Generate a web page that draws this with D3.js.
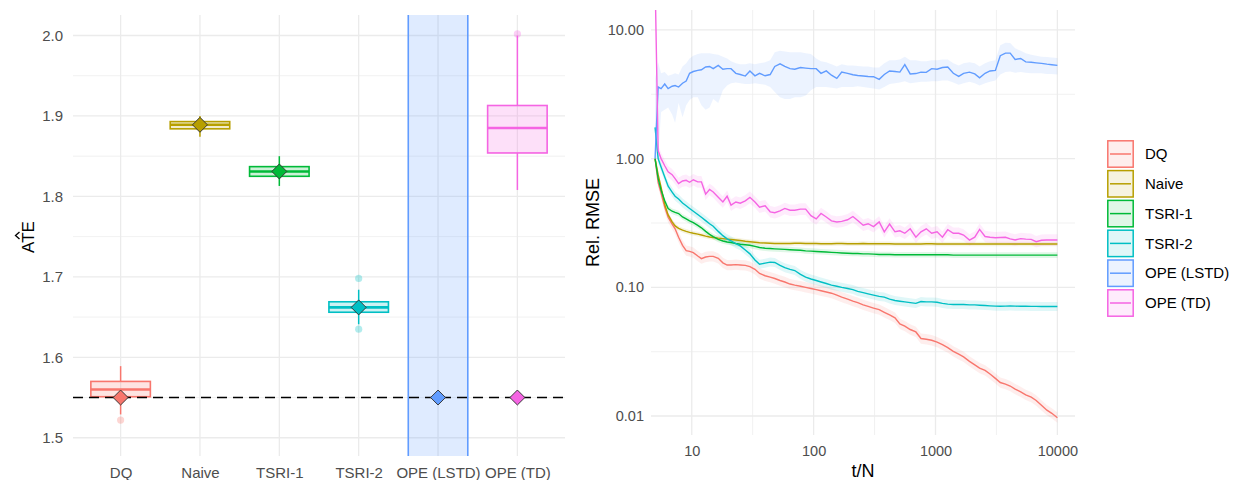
<!DOCTYPE html>
<html>
<head>
<meta charset="utf-8">
<script src="https://cdn.jsdelivr.net/npm/d3@7"></script>
<style>
body { margin: 0; background: #fff; }
text { font-family: "Liberation Sans", Arial, sans-serif; }
</style>
</head>
<body>
<svg id="chart" width="1233" height="480"></svg>
<script>
// ---- data: left panel (ATE estimates) ----
var methods = ["DQ", "Naive", "TSRI-1", "TSRI-2", "OPE (LSTD)", "OPE (TD)"];
var colors = ["#F8766D", "#B79F00", "#00BA38", "#00BFC4", "#619CFF", "#F564E3"];
var boxLow = [1.529, 1.874, 1.813, 1.641, -6.0, 1.808];
var boxQ1 = [1.551, 1.884, 1.825, 1.656, -1.5, 1.854];
var boxMed = [1.560, 1.889, 1.831, 1.662, 1.2, 1.885];
var boxQ3 = [1.570, 1.893, 1.837, 1.669, 4.5, 1.913];
var boxHigh = [1.589, 1.900, 1.850, 1.684, 9.0, 2.000];
var ateMean = [1.550, 1.889, 1.831, 1.662, 1.550, 1.550];
var outlierMethod = ["DQ", "TSRI-2", "TSRI-2", "OPE (TD)"];
var outlierValue = [1.522, 1.698, 1.635, 2.002];
var trueATE = 1.55;
var ateTicks = [1.5, 1.6, 1.7, 1.8, 1.9, 2.0];

// ---- data: right panel (relative RMSE over t/N) ----
var tGrid = [5, 5.3, 5.6, 6, 6.4, 6.9, 7.3, 7.8, 8.4, 9,
  9.6, 10.3, 11.2, 12, 13, 14, 15, 16.5, 18, 19.5,
  21, 23, 25, 27.5, 30, 33, 36, 40, 44, 48,
  53, 58, 64, 70, 78, 86, 95, 105, 115, 127,
  140, 155, 170, 190, 210, 230, 255, 280, 310, 345,
  380, 420, 465, 510, 560, 620, 690, 760, 840, 930,
  1030, 1140, 1260, 1400, 1550, 1700, 1900, 2100, 2300, 2550,
  2800, 3100, 3400, 3750, 4100, 4500, 5000, 5500, 6100, 6700,
  7400, 8200, 9000, 10000];

var rmseDQ = [1.0, 0.65, 0.54, 0.42, 0.35, 0.31, 0.285, 0.245, 0.212, 0.193,
  0.19, 0.186, 0.175, 0.167, 0.172, 0.174, 0.174, 0.168, 0.155, 0.149,
  0.149, 0.150, 0.149, 0.148, 0.145, 0.138, 0.128, 0.123, 0.120, 0.117,
  0.113, 0.110, 0.106, 0.104, 0.102, 0.100, 0.098, 0.096, 0.094, 0.092,
  0.090, 0.087, 0.084, 0.081, 0.078, 0.076, 0.073, 0.071, 0.069, 0.067,
  0.064, 0.061, 0.058, 0.052, 0.050, 0.047, 0.045, 0.040, 0.0395, 0.0388,
  0.0375, 0.0358, 0.0340, 0.0318, 0.0302, 0.0288, 0.0266, 0.0250, 0.0236, 0.0226,
  0.0212, 0.0196, 0.0182, 0.0177, 0.0171, 0.0162, 0.0154, 0.0146, 0.0140, 0.0132,
  0.0121, 0.0111, 0.0105, 0.0097];

var rmseNaive = [1.0, 0.75, 0.60, 0.44, 0.365, 0.322, 0.300, 0.287, 0.278, 0.272,
  0.267, 0.263, 0.259, 0.255, 0.250, 0.246, 0.244, 0.241, 0.239, 0.237,
  0.235, 0.233, 0.231, 0.228, 0.226, 0.224, 0.222, 0.221, 0.220, 0.219,
  0.219, 0.219, 0.219, 0.220, 0.220, 0.219, 0.219, 0.219, 0.218, 0.218,
  0.218, 0.219, 0.219, 0.218, 0.218, 0.218, 0.219, 0.218, 0.218, 0.218,
  0.218, 0.218, 0.217, 0.217, 0.217, 0.217, 0.217, 0.217, 0.218, 0.218,
  0.217, 0.217, 0.217, 0.217, 0.217, 0.217, 0.217, 0.217, 0.217, 0.217,
  0.217, 0.217, 0.217, 0.217, 0.217, 0.217, 0.217, 0.217, 0.217, 0.217,
  0.217, 0.217, 0.217, 0.217];

var rmseTSRI1 = [1.0, 0.70, 0.57, 0.47, 0.41, 0.39, 0.382, 0.374, 0.352, 0.340,
  0.328, 0.318, 0.303, 0.290, 0.272, 0.258, 0.248, 0.236, 0.229, 0.225,
  0.223, 0.219, 0.216, 0.214, 0.212, 0.208, 0.204, 0.201, 0.200, 0.199,
  0.198, 0.197, 0.196, 0.195, 0.194, 0.192, 0.191, 0.190, 0.189, 0.188,
  0.187, 0.186, 0.185, 0.184, 0.183, 0.183, 0.182, 0.182, 0.181, 0.180,
  0.180, 0.180, 0.179, 0.179, 0.179, 0.179, 0.179, 0.179, 0.179, 0.179,
  0.179, 0.179, 0.179, 0.178, 0.178, 0.178, 0.178, 0.178, 0.178, 0.178,
  0.178, 0.178, 0.178, 0.178, 0.178, 0.178, 0.178, 0.178, 0.178, 0.178,
  0.178, 0.178, 0.178, 0.178];

var rmseTSRI2 = [1.75, 1.0, 0.86, 0.72, 0.61, 0.55, 0.51, 0.485, 0.452, 0.430,
  0.410, 0.390, 0.368, 0.350, 0.330, 0.312, 0.298, 0.272, 0.252, 0.238,
  0.230, 0.218, 0.210, 0.195, 0.182, 0.163, 0.151, 0.154, 0.157, 0.156,
  0.148, 0.142, 0.138, 0.135, 0.126, 0.120, 0.116, 0.113, 0.110, 0.107,
  0.104, 0.102, 0.100, 0.098, 0.096, 0.093, 0.091, 0.089, 0.087, 0.085,
  0.084, 0.081, 0.079, 0.078, 0.077, 0.076, 0.075, 0.0775, 0.077, 0.077,
  0.0765, 0.075, 0.074, 0.0735, 0.0735, 0.0735, 0.073, 0.073, 0.0726, 0.0722,
  0.0718, 0.0714, 0.0712, 0.0714, 0.0716, 0.0714, 0.0713, 0.0712, 0.0711, 0.0711,
  0.071, 0.071, 0.071, 0.071];

var rmseLSTD = [1.0, 3.6, 3.5, 3.8, 3.5, 3.65, 3.7, 3.6, 3.85, 4.0,
  4.6, 4.75, 4.85, 4.9, 5.15, 5.2, 5.0, 5.3, 4.95, 5.0,
  5.0, 4.6, 4.5, 4.38, 4.8, 4.4, 4.6, 4.4, 4.5, 5.2,
  5.45, 5.2, 5.0, 4.95, 5.1, 5.05, 5.0, 5.0, 4.6, 4.8,
  4.45, 4.2, 4.7, 4.6, 4.48, 4.42, 4.38, 4.35, 4.33, 4.13,
  4.5, 4.8, 4.75, 4.7, 5.38, 4.55, 4.58, 4.7, 4.68, 5.0,
  4.95, 5.1, 5.15, 4.6, 4.35, 4.6, 4.7, 4.55, 4.25, 4.6,
  4.8, 4.85, 6.3, 6.6, 6.6, 5.9, 6.0, 5.65, 5.6, 5.55,
  5.5, 5.42, 5.36, 5.3];

var rmseTD = [25, 1.15, 1.00, 0.88, 0.79, 0.75, 0.70, 0.64, 0.67, 0.678,
  0.655, 0.685, 0.66, 0.66, 0.53, 0.575, 0.55, 0.50, 0.46, 0.51,
  0.435, 0.46, 0.45, 0.47, 0.50, 0.46, 0.42, 0.43, 0.386, 0.38,
  0.392, 0.41, 0.397, 0.397, 0.405, 0.405, 0.36, 0.34, 0.375, 0.352,
  0.328, 0.322, 0.325, 0.335, 0.355, 0.33, 0.304, 0.312, 0.296, 0.322,
  0.27, 0.31, 0.27, 0.275, 0.263, 0.285, 0.245, 0.27, 0.285, 0.263,
  0.27, 0.245, 0.28, 0.263, 0.263, 0.255, 0.233, 0.245, 0.282, 0.248,
  0.245, 0.243, 0.244, 0.245, 0.238, 0.233, 0.239, 0.237, 0.236, 0.226,
  0.232, 0.233, 0.233, 0.233];

// LSTD has a wide, uneven band; the others get a fixed band (log10 half-width)
var lstdLow = [1.0, 1.0, 2.3, 2.4, 2.5, 2.2, 1.9, 2.7, 2.1, 2.6,
  2.85, 3.0, 3.0, 2.6, 2.4, 2.5, 2.9, 2.7, 3.4, 3.7,
  3.85, 3.9, 3.85, 3.8, 3.8, 3.85, 3.8, 3.75, 3.6, 3.3,
  3.0, 2.9, 2.9, 3.0, 3.0, 3.1, 3.4, 3.6, 3.6, 3.6,
  3.55, 3.5, 3.6, 3.6, 3.6, 3.65, 3.6, 3.55, 3.5, 3.45,
  3.6, 3.8, 3.85, 3.9, 4.0, 3.85, 3.9, 3.95, 3.95, 4.0,
  4.0, 4.05, 4.05, 3.9, 3.75, 3.85, 3.95, 3.85, 3.7, 3.85,
  3.95, 4.05, 4.5, 4.7, 4.75, 4.65, 4.7, 4.65, 4.6, 4.6,
  4.6, 4.55, 4.55, 4.5];
var lstdHigh = [4.2, 5.6, 4.6, 4.7, 4.4, 4.5, 4.6, 4.5, 5.2, 5.5,
  6.0, 6.3, 6.5, 6.6, 6.6, 6.6, 6.5, 6.4, 6.2, 6.0,
  5.7, 5.5, 5.4, 5.4, 5.5, 5.4, 5.5, 5.6, 5.8, 6.7,
  6.9, 6.8, 6.7, 6.7, 6.7, 6.6, 6.5, 6.0, 5.7, 5.6,
  5.4, 5.2, 5.4, 5.3, 5.3, 5.25, 5.2, 5.2, 5.1, 5.1,
  5.5, 5.8, 5.8, 5.9, 6.2, 5.8, 5.8, 5.7, 5.7, 5.8,
  5.8, 5.9, 5.9, 5.5, 5.3, 5.5, 5.6, 5.5, 5.2, 5.5,
  5.7, 5.8, 7.6, 7.95, 7.9, 7.2, 6.9, 6.6, 6.4, 6.3,
  6.2, 6.15, 6.1, 6.05];
var bandHalfWidth = [0.04, 0.018, 0.022, 0.035, 0, 0.045];

var rmseTicks = [0.01, 0.1, 1, 10];
var rmseMinor = [0.0316, 0.316, 3.16];
var tTicks = [10, 100, 1000, 10000];
var tMinor = [31.6, 316, 3162];

var series = [rmseDQ, rmseNaive, rmseTSRI1, rmseTSRI2, rmseLSTD, rmseTD];

var svg = d3.select("#chart");
var grey = "#4D4D4D";
var gridCol = "#EBEBEB";

// ================= left panel =================
var L = {left: 73, right: 565, top: 15, bottom: 456};
var x = d3.scalePoint().domain(methods).range([L.left, L.right]).padding(0.6);
var y = d3.scaleLinear().domain([1.4773, 2.0255]).range([L.bottom, L.top]);
var boxW = x.step() * 0.75;

svg.append("clipPath").attr("id", "clipL").append("rect")
  .attr("x", L.left).attr("y", L.top)
  .attr("width", L.right - L.left).attr("height", L.bottom - L.top);

var gridL = svg.append("g");
gridL.selectAll(".minor").data(y.ticks(10).filter(function(d) { return ateTicks.indexOf(+d.toFixed(2)) < 0; }))
  .enter().append("line")
  .attr("x1", L.left).attr("x2", L.right)
  .attr("y1", function(d) { return y(d); }).attr("y2", function(d) { return y(d); })
  .attr("stroke", gridCol).attr("stroke-width", 0.7);
gridL.selectAll(".major").data(ateTicks).enter().append("line")
  .attr("x1", L.left).attr("x2", L.right)
  .attr("y1", function(d) { return y(d); }).attr("y2", function(d) { return y(d); })
  .attr("stroke", gridCol).attr("stroke-width", 1.3);
gridL.selectAll(".vert").data(methods).enter().append("line")
  .attr("x1", function(d) { return x(d); }).attr("x2", function(d) { return x(d); })
  .attr("y1", L.top).attr("y2", L.bottom)
  .attr("stroke", gridCol).attr("stroke-width", 1.3);

var boxes = svg.append("g").attr("clip-path", "url(#clipL)");
methods.forEach(function(m, i) {
  var cx = x(m), c = colors[i];
  var g = boxes.append("g");
  g.append("line").attr("x1", cx).attr("x2", cx)
    .attr("y1", y(boxQ3[i])).attr("y2", y(boxHigh[i]))
    .attr("stroke", c).attr("stroke-width", 1.5);
  g.append("line").attr("x1", cx).attr("x2", cx)
    .attr("y1", y(boxQ1[i])).attr("y2", y(boxLow[i]))
    .attr("stroke", c).attr("stroke-width", 1.5);
  g.append("rect").attr("x", cx - boxW / 2).attr("width", boxW)
    .attr("y", y(boxQ3[i])).attr("height", y(boxQ1[i]) - y(boxQ3[i]))
    .attr("fill", c).attr("fill-opacity", 0.2)
    .attr("stroke", c).attr("stroke-width", 1.6);
  g.append("line").attr("x1", cx - boxW / 2).attr("x2", cx + boxW / 2)
    .attr("y1", y(boxMed[i])).attr("y2", y(boxMed[i]))
    .attr("stroke", c).attr("stroke-width", 2.6);
});

boxes.selectAll(".outlier").data(outlierValue).enter().append("circle")
  .attr("cx", function(d, i) { return x(outlierMethod[i]); })
  .attr("cy", function(d) { return y(d); })
  .attr("r", 3.6)
  .attr("fill", function(d, i) { return colors[methods.indexOf(outlierMethod[i])]; })
  .attr("fill-opacity", 0.3);

svg.append("line")
  .attr("x1", L.left).attr("x2", L.right)
  .attr("y1", y(trueATE)).attr("y2", y(trueATE))
  .attr("stroke", "#000").attr("stroke-width", 1.4)
  .attr("stroke-dasharray", "10,6");

var diamond = d3.symbol().type(d3.symbolSquare).size(112);
svg.append("g").selectAll("path").data(ateMean).enter().append("path")
  .attr("d", diamond)
  .attr("transform", function(d, i) { return "translate(" + x(methods[i]) + "," + y(d) + ") rotate(45)"; })
  .attr("fill", function(d, i) { return colors[i]; })
  .attr("stroke", "#333").attr("stroke-width", 0.9);

var axL = svg.append("g").attr("transform", "translate(" + L.left + ",0)")
  .call(d3.axisLeft(y).tickValues(ateTicks).tickSize(0).tickPadding(10).tickFormat(d3.format(".1f")));
var axB = svg.append("g").attr("transform", "translate(0," + L.bottom + ")")
  .call(d3.axisBottom(x).tickSize(0).tickPadding(11));
[axL, axB].forEach(function(a) {
  a.select(".domain").remove();
  a.selectAll("text").attr("fill", grey).style("font-size", "15px")
    .style("font-family", "'Liberation Sans', Arial, sans-serif");
});

// y title: ATE with a hat
var yt = svg.append("g").attr("transform", "translate(34,237) rotate(-90)");
yt.append("text").attr("text-anchor", "middle").attr("x", 0).attr("y", 0)
  .style("font-size", "17px").attr("fill", "#000").text("ATE");
yt.append("path").attr("d", "M-2,-14.5 L1.5,-18.5 L5,-14.5")
  .attr("fill", "none").attr("stroke", "#000").attr("stroke-width", 1.3);

// ================= right panel =================
var R = {left: 651, right: 1075, top: 10, bottom: 435};
var xr = d3.scaleLog().domain([4.63, 13949]).range([R.left, R.right]);
var yr = d3.scaleLog().domain([0.00712, 14.28]).range([R.bottom, R.top]);

svg.append("clipPath").attr("id", "clipR").append("rect")
  .attr("x", R.left).attr("y", R.top)
  .attr("width", R.right - R.left).attr("height", R.bottom - R.top);

var gridR = svg.append("g");
gridR.selectAll(".hmin").data(rmseMinor).enter().append("line")
  .attr("x1", R.left).attr("x2", R.right)
  .attr("y1", function(d) { return yr(d); }).attr("y2", function(d) { return yr(d); })
  .attr("stroke", gridCol).attr("stroke-width", 0.7);
gridR.selectAll(".vmin").data(tMinor).enter().append("line")
  .attr("y1", R.top).attr("y2", R.bottom)
  .attr("x1", function(d) { return xr(d); }).attr("x2", function(d) { return xr(d); })
  .attr("stroke", gridCol).attr("stroke-width", 0.7);
gridR.selectAll(".hmaj").data(rmseTicks).enter().append("line")
  .attr("x1", R.left).attr("x2", R.right)
  .attr("y1", function(d) { return yr(d); }).attr("y2", function(d) { return yr(d); })
  .attr("stroke", gridCol).attr("stroke-width", 1.3);
gridR.selectAll(".vmaj").data(tTicks).enter().append("line")
  .attr("y1", R.top).attr("y2", R.bottom)
  .attr("x1", function(d) { return xr(d); }).attr("x2", function(d) { return xr(d); })
  .attr("stroke", gridCol).attr("stroke-width", 1.3);

var plotR = svg.append("g").attr("clip-path", "url(#clipR)");
var area = d3.area()
  .x(function(d) { return xr(d.t); })
  .y0(function(d) { return yr(d.lo); })
  .y1(function(d) { return yr(d.hi); });
var line = d3.line()
  .x(function(d) { return xr(d.t); })
  .y(function(d) { return yr(d.v); });

var seriesData = series.map(function(vals, i) {
  return tGrid.map(function(t, j) {
    var lo, hi;
    if (i === 4) { lo = lstdLow[j]; hi = lstdHigh[j]; }
    else {
      lo = vals[j] / Math.pow(10, bandHalfWidth[i]);
      hi = vals[j] * Math.pow(10, bandHalfWidth[i]);
    }
    return {t: t, v: vals[j], lo: lo, hi: hi};
  });
});

seriesData.forEach(function(d, i) {
  plotR.append("path").datum(d).attr("d", area)
    .attr("fill", colors[i]).attr("fill-opacity", 0.12);
});
seriesData.forEach(function(d, i) {
  plotR.append("path").datum(d).attr("d", line)
    .attr("fill", "none").attr("stroke", colors[i]).attr("stroke-width", 1.4);
});

var axRL = svg.append("g").attr("transform", "translate(" + R.left + ",0)")
  .call(d3.axisLeft(yr).tickValues(rmseTicks).tickSize(0).tickPadding(7).tickFormat(d3.format(".2f")));
var axRB = svg.append("g").attr("transform", "translate(0," + R.bottom + ")")
  .call(d3.axisBottom(xr).tickValues(tTicks).tickSize(0).tickPadding(10.5).tickFormat(d3.format("d")));
[axRL, axRB].forEach(function(a) {
  a.select(".domain").remove();
  a.selectAll("text").attr("fill", grey).style("font-size", "14.5px")
    .style("font-family", "'Liberation Sans', Arial, sans-serif");
});

svg.append("text").attr("x", (R.left + R.right) / 2).attr("y", 477)
  .attr("text-anchor", "middle").style("font-size", "18px").attr("fill", "#000").text("t/N");
svg.append("text").attr("transform", "translate(599," + (R.top + R.bottom) / 2 + ") rotate(-90)")
  .attr("text-anchor", "middle").style("font-size", "18px").attr("fill", "#000").text("Rel. RMSE");

// legend
var leg = svg.append("g").attr("transform", "translate(1107,140)");
methods.forEach(function(m, i) {
  var g = leg.append("g").attr("transform", "translate(0," + (i * 29.8) + ")");
  g.append("rect").attr("x", 0.8).attr("y", 0.8).attr("width", 25.4).attr("height", 26.4)
    .attr("fill", colors[i]).attr("fill-opacity", 0.12)
    .attr("stroke", colors[i]).attr("stroke-width", 1.5);
  g.append("line").attr("x1", 3).attr("x2", 24).attr("y1", 14).attr("y2", 14)
    .attr("stroke", colors[i]).attr("stroke-width", 1.5);
  g.append("text").attr("x", 38).attr("y", 14).attr("dy", "0.35em")
    .style("font-size", "15px").attr("fill", "#000").text(m);
});
</script>
</body>
</html>
